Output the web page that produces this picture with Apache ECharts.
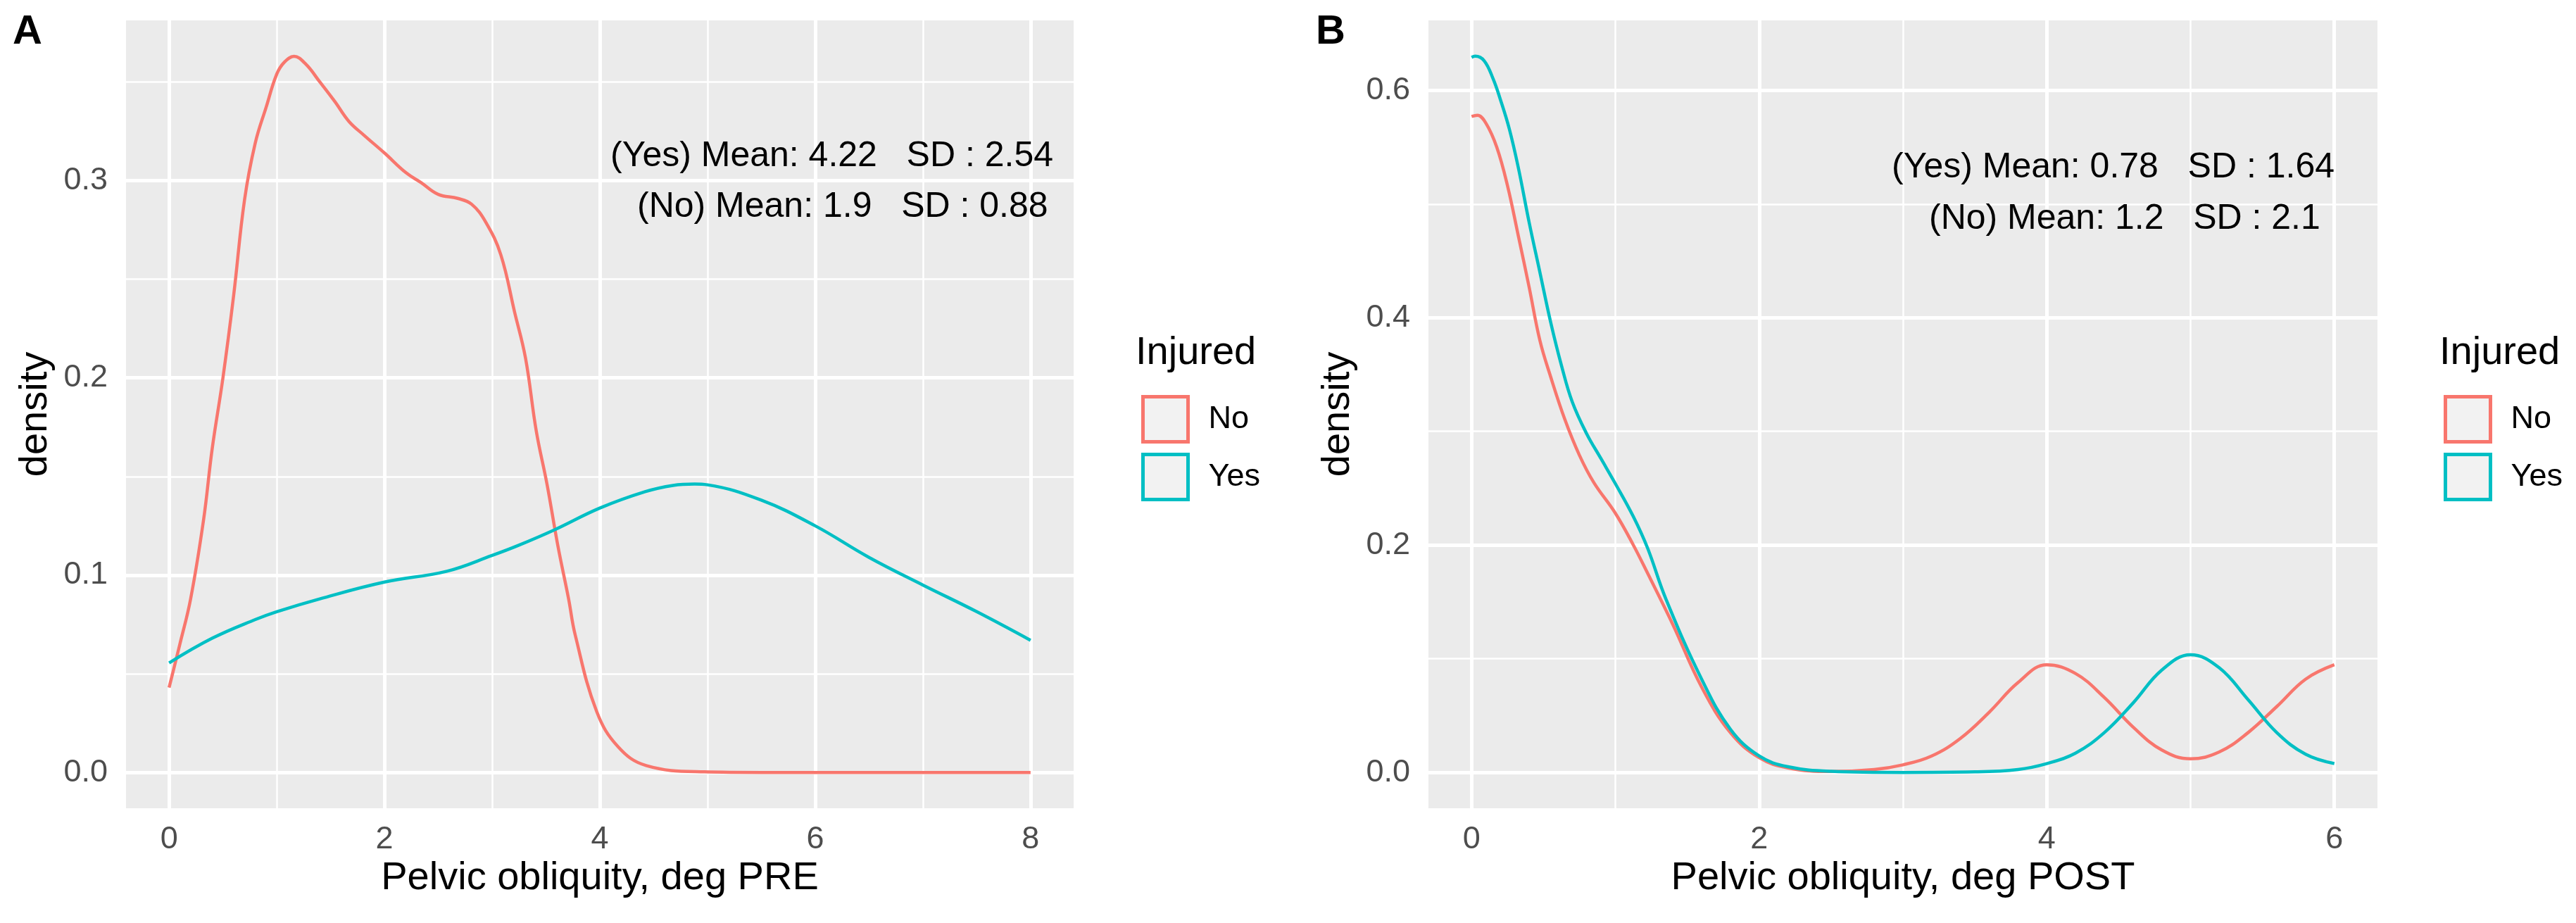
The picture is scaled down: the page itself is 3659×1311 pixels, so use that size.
<!DOCTYPE html>
<html><head><meta charset="utf-8">
<script src="https://cdn.jsdelivr.net/npm/echarts@6/dist/echarts.min.js"></script>
<style>html,body{margin:0;padding:0;background:#fff}#c{width:3659px;height:1311px}</style>
</head><body><div id="c"></div>
<script>
// ---- data ----
const preNoX  = [0,0.1,0.2,0.32,0.4,0.5,0.6,0.7,0.8,0.9,1.0,1.07,1.16,1.27,1.4,1.54,1.67,1.81,2.0,2.2,2.34,2.5,2.68,2.81,2.94,3.08,3.21,3.31,3.41,3.51,3.61,3.71,3.77,3.97,4.17,4.43,4.97,5.5,6,7,8];
const preNoY  = [0.043,0.065,0.088,0.128,0.164,0.2,0.242,0.29,0.319,0.337,0.354,0.36,0.363,0.359,0.35,0.34,0.33,0.323,0.314,0.304,0.299,0.293,0.291,0.288,0.279,0.2625,0.233,0.21,0.173,0.146,0.115,0.088,0.07,0.031,0.013,0.0035,0.0003,0,0,0,0];
const preYesX = [0,0.4,0.8,1.0,1.4,2.0,2.58,3.0,3.24,3.58,4.0,4.42,4.68,4.88,5.0,5.5,6.0,6.5,7.0,7.5,8.0];
const preYesY = [0.0555,0.068,0.0775,0.0815,0.088,0.0965,0.102,0.11,0.115,0.123,0.134,0.1423,0.1455,0.1462,0.1458,0.138,0.125,0.109,0.095,0.0815,0.067];
const postNoX  = [0,0.04,0.1,0.175,0.25,0.325,0.4,0.475,0.55,0.65,0.75,0.85,1.0,1.125,1.225,1.4,1.6,1.8,2.0,2.2,2.5,2.8,3.0,3.2,3.4,3.6,3.8,4.0,4.2,4.4,4.6,4.8,5.0,5.2,5.4,5.6,5.8,6.0];
const postNoY  = [0.577,0.578,0.571,0.55,0.516,0.472,0.427,0.38,0.348,0.31,0.279,0.255,0.228,0.2,0.175,0.13,0.075,0.035,0.013,0.004,0.0008,0.0026,0.0067,0.0145,0.03,0.053,0.079,0.0947,0.087,0.066,0.04,0.0197,0.012,0.018,0.035,0.058,0.082,0.0947];
const postYesX = [0,0.025,0.0875,0.15,0.2,0.2625,0.325,0.4,0.475,0.55,0.625,0.7,0.8,0.9,1.0,1.125,1.225,1.35,1.6,1.8,2.0,2.2,2.5,3.0,3.5,3.8,4.0,4.2,4.4,4.6,4.8,5.0,5.2,5.4,5.6,5.8,6.0];
const postYesY = [0.629,0.630,0.626,0.61,0.592,0.566,0.532,0.484,0.44,0.396,0.358,0.326,0.298,0.276,0.254,0.225,0.197,0.153,0.082,0.038,0.0145,0.005,0.001,0,0.0005,0.0026,0.0078,0.017,0.035,0.061,0.09,0.1035,0.092,0.064,0.035,0.016,0.0078];

const preTicksX = [0,2,4,6,8];
const preMinorX = [1,3,5,7];
const preTicksY = [0,0.1,0.2,0.3];
const preMinorY = [0.05,0.15,0.25,0.35];
const postTicksX = [0,2,4,6];
const postMinorX = [1,3,5];
const postTicksY = [0,0.2,0.4,0.6];
const postMinorY = [0.1,0.3,0.5];

const groups = ['No','Yes'];
const xTitles = ['Pelvic obliquity, deg PRE','Pelvic obliquity, deg POST'];
const yTitle = 'density';
const legendTitle = 'Injured';
const panelTags = ['A','B'];
const notesPre = ['(Yes) Mean: 4.22   SD : 2.54','(No) Mean: 1.9   SD : 0.88'];
const notesPost = ['(Yes) Mean: 0.78   SD : 1.64','(No) Mean: 1.2   SD : 2.1'];

// ---- style ----
const FONT = "'Liberation Sans', Helvetica, Arial, sans-serif";
const COLORS = {No:'#F8766D', Yes:'#00BFC4'};
const zip = (xs, ys) => xs.map((x,i)=>[x, ys[i]]);

function gridLines(idx, majX, minX, majY, minY) {
  const d = [];
  minX.forEach(v=>d.push({xAxis:v, lineStyle:{color:'#fff', width:2.5, type:'solid'}}));
  minY.forEach(v=>d.push({yAxis:v, lineStyle:{color:'#fff', width:2.5, type:'solid'}}));
  majX.forEach(v=>d.push({xAxis:v, lineStyle:{color:'#fff', width:5, type:'solid'}}));
  majY.forEach(v=>d.push({yAxis:v, lineStyle:{color:'#fff', width:5, type:'solid'}}));
  return {
    type:'line', name:'_grid'+idx, xAxisIndex:idx, yAxisIndex:idx, data:[], z:1,
    silent:true,
    markLine:{silent:true, symbol:['none','none'], label:{show:false}, animation:false, data:d}
  };
}
function curve(idx, name, xs, ys) {
  return {
    type:'line', name, xAxisIndex:idx, yAxisIndex:idx, data:zip(xs,ys), z:5,
    showSymbol:false, smooth:0.4,
    lineStyle:{color:COLORS[name], width:4.5}, itemStyle:{color:COLORS[name]}
  };
}
function xAxis(idx, min, max, ticks, title) {
  return {
    gridIndex:idx, type:'value', min, max,
    axisLine:{show:false},
    axisTick:{show:true, length:15, customValues:ticks, lineStyle:{color:'#333333', width:5}},
    axisLabel:{customValues:ticks, color:'#4D4D4D', fontSize:45, fontFamily:FONT, margin:22},
    splitLine:{show:false},
    name:title, nameLocation:'middle', nameGap:70,
    nameTextStyle:{fontSize:56, color:'#000', fontFamily:FONT}
  };
}
function yAxis(idx, min, max, ticks) {
  return {
    gridIndex:idx, type:'value', min, max,
    axisLine:{show:false},
    axisTick:{show:true, length:15, customValues:ticks, lineStyle:{color:'#333333', width:5}},
    axisLabel:{customValues:ticks, color:'#4D4D4D', fontSize:45, fontFamily:FONT, margin:26,
      formatter:v=>Number(v).toFixed(1)},
    splitLine:{show:false},
    name:yTitle, nameLocation:'middle', nameGap:100,
    nameTextStyle:{fontSize:56, color:'#000', fontFamily:FONT}
  };
}
function legend(left) {
  return {
    left, top:556, orient:'vertical', icon:'rect', itemWidth:64, itemHeight:64, itemGap:13,
    selectedMode:false,
    data: groups.map(g=>({name:g, itemStyle:{color:'#F2F2F2', borderColor:COLORS[g], borderWidth:5}})),
    textStyle:{fontSize:45, color:'#000', fontFamily:FONT, padding:[0,0,0,24]}
  };
}
function txt(x, y, s, size, bold) {
  return {type:'text', x, y, z:100, zlevel:0, silent:true,
    style:{text:s, fill:'#000', font:(bold?'bold ':'')+size+'px '+FONT, textVerticalAlign:'middle', textAlign:'left'}};
}

const chart = echarts.init(document.getElementById('c'), null, {renderer:'canvas'});
chart.setOption({
  animation:false,
  backgroundColor:'#fff',
  grid:[
    {left:179, top:29, width:1346, height:1119, show:true, backgroundColor:'#EBEBEB', borderWidth:0},
    {left:2029, top:29, width:1348, height:1119, show:true, backgroundColor:'#EBEBEB', borderWidth:0}
  ],
  xAxis:[ xAxis(0,-0.4,8.4,preTicksX,xTitles[0]), xAxis(1,-0.3,6.3,postTicksX,xTitles[1]) ],
  yAxis:[ yAxis(0,-0.01815,0.3812,preTicksY), yAxis(1,-0.0315,0.6615,postTicksY) ],
  legend:[ legend(1616), legend(3466) ],
  series:[
    gridLines(0, preTicksX, preMinorX, preTicksY, preMinorY),
    gridLines(1, postTicksX, postMinorX, postTicksY, postMinorY),
    curve(0,'No',preNoX,preNoY), curve(0,'Yes',preYesX,preYesY),
    curve(1,'No',postNoX,postNoY), curve(1,'Yes',postYesX,postYesY)
  ],
  graphic:{elements:[
    txt(18, 46, panelTags[0], 58, true),
    txt(1869, 46, panelTags[1], 58, true),
    txt(1613, 502, legendTitle, 56, false),
    txt(3465, 502, legendTitle, 56, false),
    txt(867, 222, notesPre[0], 50, false),
    txt(905, 294, notesPre[1], 50, false),
    txt(2687, 238, notesPost[0], 50, false),
    txt(2740, 311, notesPost[1], 50, false)
  ]}
});
</script></body></html>
